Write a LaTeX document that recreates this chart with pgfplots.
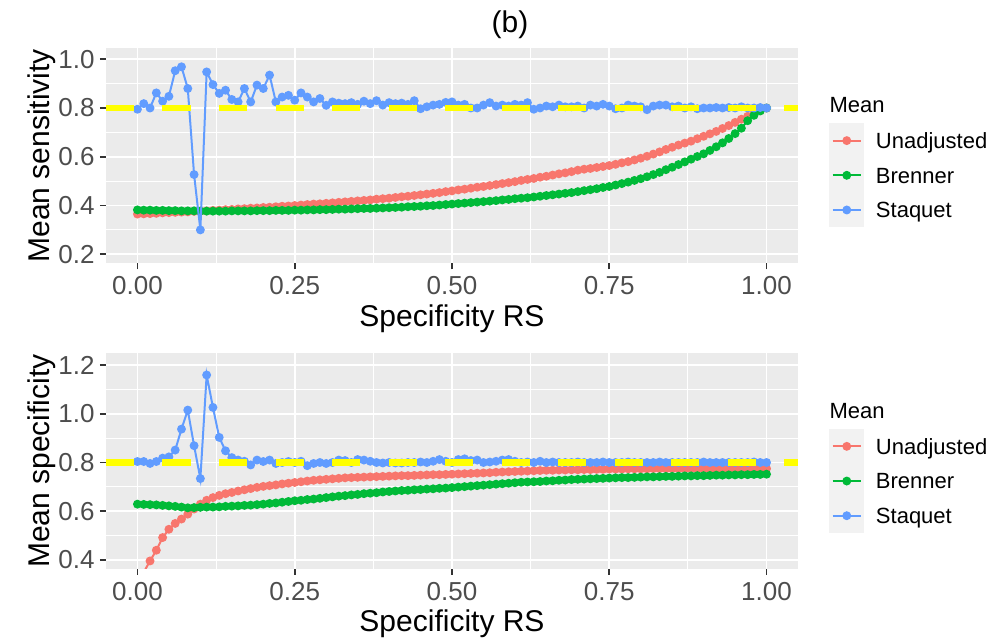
\documentclass[border=0pt]{standalone}
\usepackage{fontspec}
\setmainfont{Liberation Sans}
\usepackage{pgfplots}
\usepackage{pgfplotstable}
\pgfplotsset{compat=1.18}
\definecolor{cU}{HTML}{F8766D}
\definecolor{cB}{HTML}{00BA38}
\definecolor{cS}{HTML}{619CFF}
\definecolor{panelbg}{HTML}{EBEBEB}
\definecolor{keybg}{HTML}{F2F2F2}
\definecolor{tickc}{HTML}{333333}
\definecolor{labc}{HTML}{4D4D4D}
\definecolor{yel}{HTML}{FFFF00}

\pgfplotstableread{
x su sb ss
0.00 0.365 0.382 0.795
0.01 0.366 0.381 0.818
0.02 0.367 0.381 0.800
0.03 0.368 0.380 0.862
0.04 0.370 0.380 0.828
0.05 0.371 0.379 0.848
0.06 0.372 0.379 0.953
0.07 0.373 0.378 0.969
0.08 0.374 0.378 0.880
0.09 0.376 0.378 0.527
0.10 0.377 0.377 0.300
0.11 0.378 0.377 0.948
0.12 0.380 0.377 0.896
0.13 0.381 0.377 0.860
0.14 0.383 0.377 0.873
0.15 0.384 0.378 0.835
0.16 0.386 0.378 0.825
0.17 0.387 0.378 0.880
0.18 0.389 0.378 0.825
0.19 0.390 0.379 0.894
0.20 0.392 0.379 0.880
0.21 0.393 0.379 0.935
0.22 0.395 0.380 0.825
0.23 0.397 0.380 0.845
0.24 0.398 0.380 0.852
0.25 0.400 0.381 0.832
0.26 0.402 0.381 0.862
0.27 0.404 0.382 0.845
0.28 0.406 0.382 0.825
0.29 0.407 0.383 0.839
0.30 0.409 0.383 0.811
0.31 0.411 0.384 0.825
0.32 0.413 0.385 0.820
0.33 0.415 0.385 0.818
0.34 0.417 0.386 0.822
0.35 0.419 0.387 0.815
0.36 0.421 0.388 0.828
0.37 0.423 0.388 0.818
0.38 0.426 0.389 0.830
0.39 0.428 0.390 0.812
0.40 0.430 0.391 0.822
0.41 0.433 0.392 0.818
0.42 0.436 0.393 0.820
0.43 0.438 0.395 0.815
0.44 0.441 0.396 0.830
0.45 0.444 0.397 0.797
0.46 0.447 0.399 0.805
0.47 0.450 0.400 0.812
0.48 0.453 0.402 0.815
0.49 0.457 0.404 0.823
0.50 0.460 0.406 0.825
0.51 0.464 0.408 0.812
0.52 0.467 0.410 0.815
0.53 0.471 0.412 0.800
0.54 0.475 0.414 0.800
0.55 0.478 0.416 0.812
0.56 0.482 0.418 0.822
0.57 0.486 0.420 0.808
0.58 0.490 0.423 0.812
0.59 0.494 0.425 0.808
0.60 0.498 0.428 0.815
0.61 0.503 0.430 0.812
0.62 0.507 0.432 0.822
0.63 0.511 0.435 0.795
0.64 0.516 0.438 0.800
0.65 0.520 0.441 0.808
0.66 0.525 0.444 0.805
0.67 0.530 0.447 0.812
0.68 0.534 0.450 0.805
0.69 0.539 0.453 0.805
0.70 0.545 0.457 0.808
0.71 0.549 0.461 0.800
0.72 0.552 0.465 0.812
0.73 0.556 0.469 0.808
0.74 0.560 0.474 0.815
0.75 0.564 0.478 0.808
0.76 0.569 0.484 0.797
0.77 0.575 0.490 0.800
0.78 0.580 0.496 0.812
0.79 0.587 0.503 0.808
0.80 0.594 0.510 0.805
0.81 0.602 0.518 0.793
0.82 0.611 0.527 0.808
0.83 0.620 0.536 0.812
0.84 0.630 0.547 0.812
0.85 0.639 0.557 0.805
0.86 0.648 0.568 0.808
0.87 0.656 0.579 0.800
0.88 0.664 0.590 0.805
0.89 0.674 0.601 0.797
0.90 0.684 0.612 0.800
0.91 0.694 0.626 0.800
0.92 0.704 0.641 0.802
0.93 0.716 0.657 0.800
0.94 0.728 0.675 0.802
0.95 0.741 0.695 0.800
0.96 0.754 0.717 0.805
0.97 0.766 0.748 0.800
0.98 0.778 0.770 0.800
0.99 0.789 0.788 0.802
1.00 0.800 0.800 0.800
}\toptab

\pgfplotstableread{
x pu pb ps
0.00 0.290 0.629 0.804
0.01 0.350 0.628 0.804
0.02 0.396 0.627 0.796
0.03 0.440 0.626 0.804
0.04 0.492 0.624 0.818
0.05 0.526 0.622 0.823
0.06 0.550 0.620 0.851
0.07 0.568 0.617 0.937
0.08 0.588 0.614 1.015
0.09 0.609 0.615 0.869
0.10 0.629 0.616 0.734
0.11 0.645 0.617 1.159
0.12 0.656 0.617 1.026
0.13 0.665 0.618 0.903
0.14 0.672 0.620 0.848
0.15 0.677 0.621 0.820
0.16 0.683 0.622 0.810
0.17 0.688 0.624 0.805
0.18 0.693 0.625 0.790
0.19 0.698 0.627 0.810
0.20 0.702 0.629 0.804
0.21 0.705 0.632 0.810
0.22 0.708 0.634 0.796
0.23 0.712 0.637 0.800
0.24 0.715 0.640 0.804
0.25 0.718 0.643 0.800
0.26 0.721 0.645 0.805
0.27 0.724 0.648 0.787
0.28 0.727 0.650 0.796
0.29 0.729 0.653 0.800
0.30 0.731 0.656 0.796
0.31 0.733 0.659 0.800
0.32 0.735 0.662 0.810
0.33 0.737 0.664 0.808
0.34 0.738 0.667 0.800
0.35 0.739 0.669 0.812
0.36 0.740 0.672 0.810
0.37 0.741 0.674 0.805
0.38 0.742 0.676 0.800
0.39 0.743 0.679 0.798
0.40 0.744 0.681 0.800
0.41 0.745 0.683 0.798
0.42 0.746 0.685 0.798
0.43 0.746 0.686 0.800
0.44 0.747 0.688 0.800
0.45 0.748 0.689 0.802
0.46 0.749 0.691 0.800
0.47 0.750 0.692 0.805
0.48 0.750 0.694 0.812
0.49 0.751 0.695 0.805
0.50 0.752 0.697 0.800
0.51 0.753 0.699 0.812
0.52 0.754 0.701 0.815
0.53 0.755 0.703 0.808
0.54 0.756 0.705 0.810
0.55 0.757 0.707 0.800
0.56 0.758 0.709 0.802
0.57 0.760 0.711 0.805
0.58 0.761 0.713 0.810
0.59 0.762 0.715 0.812
0.60 0.763 0.717 0.805
0.61 0.764 0.719 0.800
0.62 0.765 0.720 0.802
0.63 0.766 0.721 0.800
0.64 0.767 0.722 0.805
0.65 0.768 0.724 0.800
0.66 0.768 0.725 0.802
0.67 0.769 0.727 0.800
0.68 0.769 0.728 0.800
0.69 0.770 0.730 0.800
0.70 0.770 0.731 0.802
0.71 0.771 0.732 0.800
0.72 0.771 0.733 0.800
0.73 0.772 0.734 0.800
0.74 0.772 0.735 0.802
0.75 0.773 0.736 0.800
0.76 0.773 0.737 0.800
0.77 0.773 0.738 0.800
0.78 0.774 0.738 0.802
0.79 0.774 0.739 0.800
0.80 0.774 0.740 0.800
0.81 0.774 0.741 0.800
0.82 0.775 0.741 0.800
0.83 0.775 0.742 0.802
0.84 0.775 0.743 0.800
0.85 0.775 0.743 0.800
0.86 0.775 0.744 0.800
0.87 0.775 0.745 0.800
0.88 0.775 0.745 0.800
0.89 0.775 0.746 0.800
0.90 0.775 0.746 0.802
0.91 0.775 0.747 0.800
0.92 0.775 0.748 0.800
0.93 0.775 0.748 0.800
0.94 0.775 0.749 0.800
0.95 0.775 0.749 0.800
0.96 0.775 0.750 0.800
0.97 0.775 0.750 0.800
0.98 0.775 0.751 0.802
0.99 0.775 0.751 0.800
1.00 0.775 0.752 0.800
}\bottab

\pgfplotsset{
  gg/.style={
    clip marker paths=true,
    scale only axis, width=346pt,
    xmin=-0.05, xmax=1.05,
    axis background/.style={fill=panelbg},
    axis line style={draw=none},
    grid=both,
    major grid style={white, line width=0.9pt},
    minor grid style={white, line width=0.45pt},
    minor x tick num=1, minor y tick num=1,
    minor tick length=0pt,
    tick align=outside, major tick length=3pt,
    every tick/.style={tickc, line width=0.85pt},
    xtick pos=left, ytick pos=left,
    xtick={0,0.25,0.5,0.75,1},
    xticklabels={0.00,0.25,0.50,0.75,1.00},
    x tick label style={font=\fontsize{13}{15}\selectfont, text=labc, anchor=base, inner sep=0pt, yshift=-12.85pt},
    y tick label style={font=\fontsize{13}{15}\selectfont, text=labc, anchor=east, inner sep=0pt, xshift=-2.5pt},
    every axis x label/.style={at={(axis description cs:0.5,0)}, anchor=base, yshift=-31.5pt, font=\fontsize{15}{17}\selectfont, inner sep=0pt},
    every axis y label/.style={at={(axis description cs:-0.0819,0.5)}, rotate=90, anchor=base, font=\fontsize{15}{17}\selectfont, inner sep=0pt},
    xlabel={Specificity RS},
    legend cell align=left,
    legend image code/.code={
      \fill[keybg] (0pt,-8.17pt) rectangle (16.5pt,8.17pt);
      \draw[line width=1pt] (1.2pt,0pt) -- (15.3pt,0pt);
      \fill (8.25pt,0pt) circle (1.7pt);
    },
    legend style={anchor=north west, draw=none, fill=none, inner sep=0pt, outer sep=0pt, row sep=0pt,
      nodes={inner sep=0pt, text height=7.9pt, text depth=0pt, font=\fontsize{11}{13}\selectfont, text=black},
      /tikz/every odd column/.append style={column sep=5.85pt}},
  },
  ser/.style={#1, line width=1pt, mark=*, mark size=1.7pt, mark options={draw=none, fill=#1}},
  yl/.style={yel, line width=3.3pt, dash pattern=on 14pt off 14.25pt, line cap=butt, forget plot},
}

\begin{document}
\begin{tikzpicture}
\path[use as bounding box] (0pt,0pt) rectangle (504pt,321.5pt);

\begin{axis}[gg, at={(53pt,189.85pt)}, anchor=south west, height=107.5pt,
  ymin=0.163, ymax=1.045,
  ytick={0.2,0.4,0.6,0.8,1.0}, yticklabels={0.2,0.4,0.6,0.8,1.0},
  ylabel={Mean sensitivity},
  legend style={at={(1.0452,0.6512)}}]
\addplot[ser=cU] table[x=x, y=su] {\toptab};
\addlegendentry{Unadjusted}
\addplot[ser=cB] table[x=x, y=sb] {\toptab};
\addlegendentry{Brenner}
\addplot[ser=cS] table[x=x, y=ss] {\toptab};
\addlegendentry{Staquet}
\addplot[yl] coordinates {(-0.05,0.8) (1.05,0.8)};
\end{axis}

\begin{axis}[gg, at={(53pt,37pt)}, anchor=south west, height=107.85pt,
  ymin=0.363, ymax=1.248,
  ytick={0.4,0.6,0.8,1.0,1.2}, yticklabels={0.4,0.6,0.8,1.0,1.2},
  ylabel={Mean specificity},
  legend style={at={(1.0452,0.649)}}]
\addplot[ser=cU] table[x=x, y=pu] {\bottab};
\addlegendentry{Unadjusted}
\addplot[ser=cB] table[x=x, y=pb] {\bottab};
\addlegendentry{Brenner}
\addplot[ser=cS] table[x=x, y=ps] {\bottab};
\addlegendentry{Staquet}
\addplot[yl] coordinates {(-0.05,0.8) (1.05,0.8)};
\end{axis}

\node[anchor=base west, inner sep=0pt, font=\fontsize{11}{13}\selectfont] at (414.6pt,265.15pt) {Mean};
\node[anchor=base west, inner sep=0pt, font=\fontsize{11}{13}\selectfont] at (414.6pt,112.35pt) {Mean};
\node[inner sep=0pt, font=\fontsize{15}{17}\selectfont] at (255pt,309pt) {(b)};
\end{tikzpicture}
\end{document}
